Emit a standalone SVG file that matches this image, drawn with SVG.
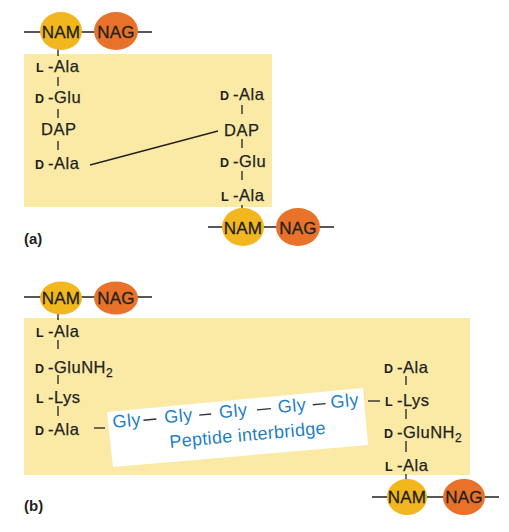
<svg xmlns="http://www.w3.org/2000/svg" width="509" height="532" viewBox="0 0 509 532">
<style>
text{font-family:"Liberation Sans",Arial,sans-serif;fill:#231f20}
.aa{font-size:16.5px;letter-spacing:0.5px;stroke:#231f20;stroke-width:0.25}
.sc{font-size:12.5px;font-weight:bold}
.sug{font-size:17px;text-anchor:middle;letter-spacing:0.3px;stroke:#231f20;stroke-width:0.3}
.lab{font-size:15px;font-weight:bold}
.gly{font-size:18px;fill:#1f7fc6;letter-spacing:0.5px}
.pep{font-size:18px;fill:#1f7fc6;letter-spacing:0.3px}
.dash{stroke:#2b3440;stroke-width:1.4}
.bg{fill:#faeaa6}
.nam{fill:#f2b71f}
.nag{fill:#e8722a}
.ln{stroke:#231f20;stroke-width:1.3;fill:none}
</style>
<rect width="509" height="532" fill="#ffffff"/>
<rect class="bg" x="24" y="54" width="248" height="153"/>
<rect class="bg" x="24" y="318" width="446" height="157"/>

<g id="connectors">
  <line class="ln" x1="24" y1="32" x2="152" y2="32"/>
  <line class="ln" x1="58" y1="40" x2="58" y2="56"/>
  <line class="ln" x1="58" y1="77" x2="58" y2="86"/>
  <line class="ln" x1="58" y1="109" x2="58" y2="118"/>
  <line class="ln" x1="58" y1="141" x2="58" y2="150"/>
  <line class="ln" x1="90" y1="165" x2="218" y2="131"/>
  <line class="ln" x1="242" y1="105" x2="242" y2="114"/>
  <line class="ln" x1="242" y1="139" x2="242" y2="148"/>
  <line class="ln" x1="242" y1="171" x2="242" y2="180"/>
  <line class="ln" x1="242" y1="205" x2="242" y2="222"/>
  <line class="ln" x1="208" y1="227" x2="334" y2="227"/>
  <line class="ln" x1="24" y1="297" x2="152" y2="297"/>
  <line class="ln" x1="58" y1="306" x2="58" y2="320"/>
  <line class="ln" x1="58" y1="340" x2="58" y2="349"/>
  <line class="ln" x1="58" y1="375" x2="58" y2="384"/>
  <line class="ln" x1="58" y1="406" x2="58" y2="416"/>
  <line class="ln" x1="94" y1="428" x2="105" y2="428"/>
  <line class="ln" x1="406" y1="376" x2="406" y2="385"/>
  <line class="ln" x1="368" y1="401" x2="380" y2="401"/>
  <line class="ln" x1="406" y1="409" x2="406" y2="419"/>
  <line class="ln" x1="406" y1="441" x2="406" y2="452"/>
  <line class="ln" x1="406" y1="474" x2="406" y2="492"/>
  <line class="ln" x1="372" y1="497" x2="499" y2="497"/>
</g>

<g id="a-nam-top"><ellipse class="nam" cx="61" cy="31" rx="21" ry="19"/><text class="sug" x="61" y="38">NAM</text></g>
<g id="a-nag-top"><ellipse class="nag" cx="116" cy="31" rx="22" ry="19"/><text class="sug" x="116" y="38">NAG</text></g>
<g id="a-l-ala-1"><text class="sc" x="36" y="72">L</text><text class="aa" x="48" y="72">-Ala</text></g>
<g id="a-d-glu-1"><text class="sc" x="35" y="103">D</text><text class="aa" x="48" y="103">-Glu</text></g>
<g id="a-dap-1"><text class="aa" x="41" y="135">DAP</text></g>
<g id="a-d-ala-1"><text class="sc" x="35" y="169">D</text><text class="aa" x="48" y="169">-Ala</text></g>

<g id="a-d-ala-2"><text class="sc" x="220" y="100">D</text><text class="aa" x="233" y="100">-Ala</text></g>
<g id="a-dap-2"><text class="aa" x="224" y="136">DAP</text></g>
<g id="a-d-glu-2"><text class="sc" x="220" y="167">D</text><text class="aa" x="233" y="167">-Glu</text></g>
<g id="a-l-ala-2"><text class="sc" x="221" y="201">L</text><text class="aa" x="233" y="201">-Ala</text></g>
<g id="a-nam-bot"><ellipse class="nam" cx="243" cy="227" rx="21" ry="19"/><text class="sug" x="243" y="234">NAM</text></g>
<g id="a-nag-bot"><ellipse class="nag" cx="298" cy="227" rx="22" ry="19"/><text class="sug" x="298" y="234">NAG</text></g>
<text class="lab" x="24" y="244">(a)</text>

<g id="b-nam-top"><ellipse class="nam" cx="61" cy="298" rx="21" ry="16.5"/><text class="sug" x="61" y="304">NAM</text></g>
<g id="b-nag-top"><ellipse class="nag" cx="116" cy="298" rx="22" ry="16.5"/><text class="sug" x="116" y="304">NAG</text></g>
<g id="b-l-ala-1"><text class="sc" x="36" y="337">L</text><text class="aa" x="48" y="337">-Ala</text></g>
<g id="b-d-glunh2-1"><text class="sc" x="35" y="373">D</text><text class="aa" x="48" y="373">-GluNH<tspan font-size="12" dy="4">2</tspan></text></g>
<g id="b-l-lys-1"><text class="sc" x="36" y="403">L</text><text class="aa" x="48" y="403">-Lys</text></g>
<g id="b-d-ala-1"><text class="sc" x="35" y="435">D</text><text class="aa" x="48" y="435">-Ala</text></g>

<g id="interbridge">
  <polygon points="107,412 363,388 368,445 113,467" fill="#ffffff"/>
  <g transform="translate(113,428) rotate(-5.2)">
    <text class="gly" x="0" y="0">Gly</text>
    <line class="dash" x1="31" y1="-5" x2="44" y2="-5"/>
    <text class="gly" x="52" y="0">Gly</text>
    <line class="dash" x1="87" y1="-5" x2="99" y2="-5"/>
    <text class="gly" x="107" y="0">Gly</text>
    <line class="dash" x1="145" y1="-5" x2="159" y2="-5"/>
    <text class="gly" x="166" y="0">Gly</text>
    <line class="dash" x1="201" y1="-5" x2="214" y2="-5"/>
    <text class="gly" x="219" y="0">Gly</text>
    <text class="pep" x="55" y="25">Peptide interbridge</text>
  </g>
</g>

<g id="b-d-ala-2"><text class="sc" x="384" y="373">D</text><text class="aa" x="397" y="373">-Ala</text></g>
<g id="b-l-lys-2"><text class="sc" x="385" y="406">L</text><text class="aa" x="397" y="406">-Lys</text></g>
<g id="b-d-glunh2-2"><text class="sc" x="384" y="438">D</text><text class="aa" x="397" y="438">-GluNH<tspan font-size="12" dy="4">2</tspan></text></g>
<g id="b-l-ala-2"><text class="sc" x="385" y="471">L</text><text class="aa" x="397" y="471">-Ala</text></g>
<g id="b-nam-bot"><ellipse class="nam" cx="407" cy="497" rx="20" ry="18"/><text class="sug" x="407" y="503">NAM</text></g>
<g id="b-nag-bot"><ellipse class="nag" cx="464" cy="497" rx="21" ry="18"/><text class="sug" x="464" y="503">NAG</text></g>
<text class="lab" x="24" y="511">(b)</text>
</svg>
